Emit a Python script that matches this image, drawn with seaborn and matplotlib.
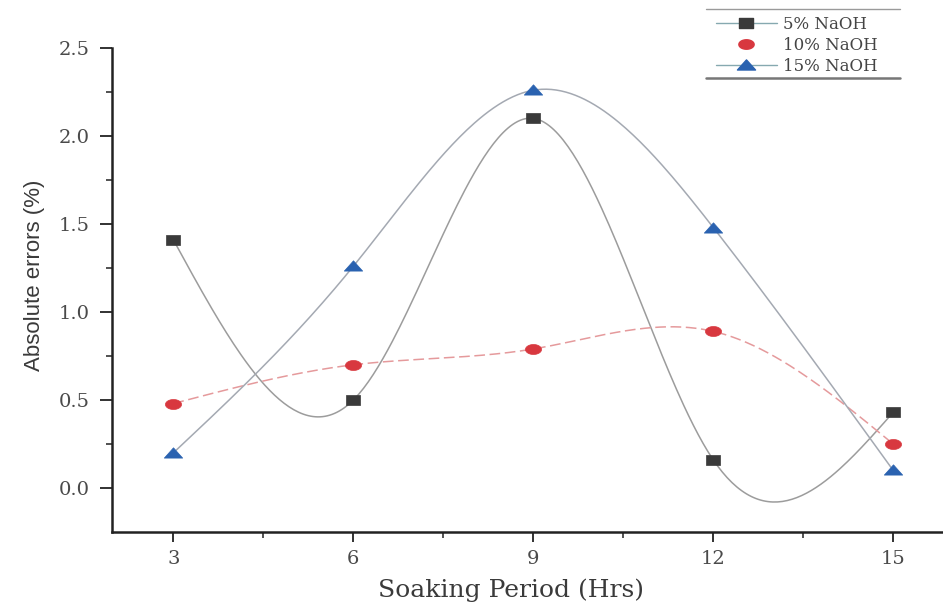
import numpy as np
import pandas as pd
import matplotlib
matplotlib.use("Agg")
import matplotlib.pyplot as plt
from matplotlib.lines import Line2D
from matplotlib.path import Path
import seaborn as sns

# Soaking period (hours) and absolute errors (%) for each NaOH concentration
hours = [3, 6, 9, 12, 15]
naoh_5 = [1.41, 0.50, 2.10, 0.16, 0.43]
naoh_10 = [0.48, 0.70, 0.79, 0.89, 0.25]
naoh_15 = [0.20, 1.26, 2.26, 1.48, 0.10]
series_names = ["5% NaOH", "10% NaOH", "15% NaOH"]
x_ticks = [3, 6, 9, 12, 15]
y_ticks = [0.0, 0.5, 1.0, 1.5, 2.0, 2.5]


def natural_spline(x, y, n=300):
    """Natural cubic spline through (x, y), sampled on n points."""
    x = np.asarray(x, float)
    y = np.asarray(y, float)
    m = len(x)
    h = np.diff(x)
    A = np.zeros((m, m))
    b = np.zeros(m)
    A[0, 0] = A[-1, -1] = 1.0
    for i in range(1, m - 1):
        A[i, i - 1] = h[i - 1]
        A[i, i] = 2 * (h[i - 1] + h[i])
        A[i, i + 1] = h[i]
        b[i] = 6 * ((y[i + 1] - y[i]) / h[i] - (y[i] - y[i - 1]) / h[i - 1])
    M = np.linalg.solve(A, b)
    xs = np.linspace(x[0], x[-1], n)
    idx = np.clip(np.searchsorted(x, xs) - 1, 0, m - 2)
    x0, x1 = x[idx], x[idx + 1]
    hh = x1 - x0
    t0, t1 = x1 - xs, xs - x0
    ys = (M[idx] * t0 ** 3 + M[idx + 1] * t1 ** 3) / (6 * hh) \
        + (y[idx] / hh - M[idx] * hh / 6) * t0 \
        + (y[idx + 1] / hh - M[idx + 1] * hh / 6) * t1
    return xs, ys


# Slightly wide marker shapes
rect_marker = Path([(-1, -0.7), (1, -0.7), (1, 0.7), (-1, 0.7), (-1, -0.7)],
                   closed=True)
theta = np.linspace(0, 2 * np.pi, 41)
ellipse_marker = Path(np.column_stack([np.cos(theta), 0.62 * np.sin(theta)]),
                      closed=True)
tri_marker = Path([(-1, -0.5), (1, -0.5), (0, 0.62), (-1, -0.5)], closed=True)

sns.set_style("ticks")
plt.rcParams["font.family"] = ["DejaVu Serif", "DejaVu Sans"]

fig = plt.figure(figsize=(9.43, 6.12), dpi=100)
ax = fig.add_axes([0.119, 0.1307, 0.881, 0.7909])

values = [naoh_5, naoh_10, naoh_15]
marker_colors = ["#3a3a3a", "#d8383f", "#2a62b0"]
markers = [rect_marker, ellipse_marker, tri_marker]
curve_colors = ["#9c9c9c", "#e59a9c", "#a4a9b2"]
curve_styles = ["-", (0, (7, 3)), "-"]
marker_sizes = [100, 135, 175]

for name, vals, mc, mk, cc, ls, ms in zip(series_names, values, marker_colors,
                                          markers, curve_colors, curve_styles,
                                          marker_sizes):
    xs, ys = natural_spline(hours, vals)
    curve = pd.DataFrame({"x": xs, "y": ys})
    sns.lineplot(data=curve, x="x", y="y", ax=ax, color=cc, lw=1.1,
                 linestyle=ls, zorder=2)
    pts = pd.DataFrame({"x": hours, "y": vals})
    sns.scatterplot(data=pts, x="x", y="y", ax=ax, marker=mk, color=mc,
                    s=ms, edgecolor=mc, linewidth=0.5, zorder=3)

ax.set_xlim(1.98, 15.83)
ax.set_ylim(-0.25, 2.5)
ax.set_xticks(x_ticks)
ax.set_xticks([4.5, 7.5, 10.5, 13.5], minor=True)
ax.set_yticks(y_ticks)
ax.set_yticks([0.25, 0.75, 1.25, 1.75, 2.25], minor=True)
ax.set_yticklabels([f"{v:.1f}" for v in y_ticks])
ax.tick_params(axis="x", which="major", direction="out", length=7,
               width=1.3, labelsize=14, colors="#222222", pad=6)
ax.tick_params(axis="y", which="major", direction="out", length=9,
               width=1.3, labelsize=14, colors="#222222", pad=7)
ax.tick_params(axis="both", which="minor", direction="out", length=4,
               width=1.1, colors="#222222")
for lab in ax.get_xticklabels() + ax.get_yticklabels():
    lab.set_color("#4a4a4a")
ax.spines["top"].set_visible(False)
ax.spines["right"].set_visible(False)
ax.spines["left"].set_linewidth(1.8)
ax.spines["bottom"].set_linewidth(1.8)
ax.spines["left"].set_color("#222222")
ax.spines["bottom"].set_color("#222222")

ax.set_xlabel("Soaking Period (Hrs)", fontsize=18, color="#3a3a3a")
ax.xaxis.set_label_coords(0.48, -0.095)
ax.set_ylabel("Absolute errors (%)", fontsize=16, color="#3a3a3a",
              family=["Liberation Sans", "DejaVu Sans"])
ax.yaxis.set_label_coords(-0.081, 0.53)

handles = [
    Line2D([], [], color="#86a9b0", lw=1.0, marker=rect_marker, markersize=10,
           markerfacecolor=marker_colors[0], markeredgecolor=marker_colors[0]),
    Line2D([], [], color="none", lw=0, marker=ellipse_marker, markersize=11,
           markerfacecolor=marker_colors[1], markeredgecolor=marker_colors[1]),
    Line2D([], [], color="#86a9b0", lw=1.0, marker=tri_marker, markersize=13,
           markerfacecolor=marker_colors[2], markeredgecolor=marker_colors[2]),
]
leg = fig.legend(handles, series_names, loc="center left",
                 bbox_to_anchor=(0.750, 0.9257), fontsize=12, frameon=False,
                 borderpad=0, handlelength=3.7, labelspacing=0.22,
                 handletextpad=0.35)
for t in leg.get_texts():
    t.set_color("#444444")

# Rules above and below the legend block
fig.add_artist(Line2D([0.749, 0.954], [0.985, 0.985], color="#9a9a9a",
                      lw=1.0, transform=fig.transFigure))
fig.add_artist(Line2D([0.749, 0.954], [0.873, 0.873], color="#777777",
                      lw=1.8, transform=fig.transFigure))

fig.savefig("out.png", dpi=100, facecolor="white")
